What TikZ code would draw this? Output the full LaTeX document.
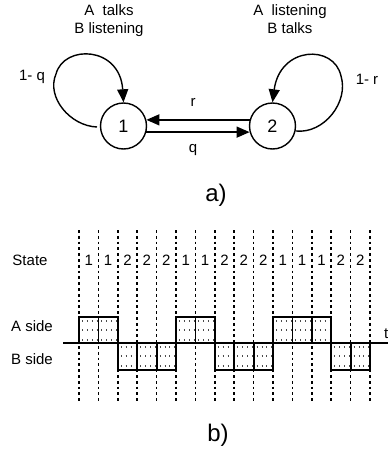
\documentclass[tikz,border=0pt]{standalone}
\usepackage{fontspec}
\setmainfont{Liberation Sans}
\usetikzlibrary{arrows.meta}
\begin{document}
\begin{tikzpicture}[x=1pt,y=-1pt,
  state/.style={draw,circle,line width=1.4pt,minimum size=46pt,inner sep=0pt,font=\fontsize{18}{18}\selectfont},
  lbl/.style={font=\fontsize{15}{17}\selectfont,inner sep=0pt},
  toplbl/.style={font=\fontsize{15}{18}\selectfont,align=center,inner sep=0pt},
  big/.style={font=\fontsize{24}{24}\selectfont,inner sep=0pt},
  arr/.style={line width=1.4pt,-{Triangle[length=13pt,width=11pt]}},
  grid/.style={line width=1.6pt,dash pattern=on 2.8pt off 3pt},
  box/.style={draw,line width=1.8pt},
  dotrow/.style={black!70,line width=1.6pt,dash pattern=on 0.9pt off 4pt}
]
\useasboundingbox (0,0) rectangle (388,453);
% ---------- part a ----------
\node[toplbl] (tl) at (109,21) {A\ \ talks\\B listening};
\node[toplbl] (tr) at (290,19) {A\ \ listening\\B talks};
\node[state] (n1) at (123.5,126) {1};
\node[state] (n2) at (272.5,126) {2};
\draw[arr] (n2.165) -- (n1.15);
\draw[arr] (n1.-15) -- (n2.195);
\node[lbl] (lr) at (193,102) {r};
\node[lbl] (lq) at (193,150) {q};
\coordinate (l1s) at (97,127);
\coordinate (l1m) at (56,74);
\coordinate (l2s) at (296,131);
\coordinate (l2m) at (341,76);
\draw[arr] (l1s) .. controls (70,126) and (46,97) .. (l1m) .. controls (64,44) and (120,46) .. (n1.north);
\draw[arr] (l2s) .. controls (324,134) and (349,102) .. (l2m) .. controls (334,44) and (280,46) .. (n2.north);
\node[lbl] (lq1) at (32,77) {1- q};
\node[lbl] (lr1) at (367,79) {1- r};
\node[big] (la) at (216,195) {a)};
% ---------- part b ----------
\def\xo{79}\def\dx{19.4}
\foreach \i in {0,...,15} {
  \draw[grid] (\xo+\i*\dx,230) -- (\xo+\i*\dx,403);
}
\foreach \s [count=\i from 0] in {1,1,2,2,2,1,1,2,2,2,1,1,1,2,2} {
  \node[lbl] at (\xo+\i*\dx+0.5*\dx,260) {\s};
  \ifnum\s=1
    \draw[dotrow] (\xo+\i*\dx+3,321) -- (\xo+\i*\dx+\dx-1,321);
    \draw[dotrow] (\xo+\i*\dx+3,330) -- (\xo+\i*\dx+\dx-1,330);
    \draw[dotrow] (\xo+\i*\dx+3,340) -- (\xo+\i*\dx+\dx-1,340);
    \draw[box] (\xo+\i*\dx,343) rectangle (\xo+\i*\dx+\dx,317);
  \else
    \draw[dotrow] (\xo+\i*\dx+3,347) -- (\xo+\i*\dx+\dx-1,347);
    \draw[dotrow] (\xo+\i*\dx+3,356) -- (\xo+\i*\dx+\dx-1,356);
    \draw[dotrow] (\xo+\i*\dx+3,366) -- (\xo+\i*\dx+\dx-1,366);
    \draw[box] (\xo+\i*\dx,343) rectangle (\xo+\i*\dx+\dx,370);
  \fi
}
\coordinate (ax0) at (63,343);
\coordinate (ax1) at (388,343);
\draw[line width=1.6pt] (ax0) -- (ax1);
\node[lbl,anchor=west] (lt) at (384,334) {t};
\node[lbl] (ls) at (30,260) {State};
\node[lbl] (la1) at (32,326) {A side};
\node[lbl] (lb1) at (32,359) {B side};
\node[big] (lb) at (218,435) {b)};
\end{tikzpicture}
\end{document}
